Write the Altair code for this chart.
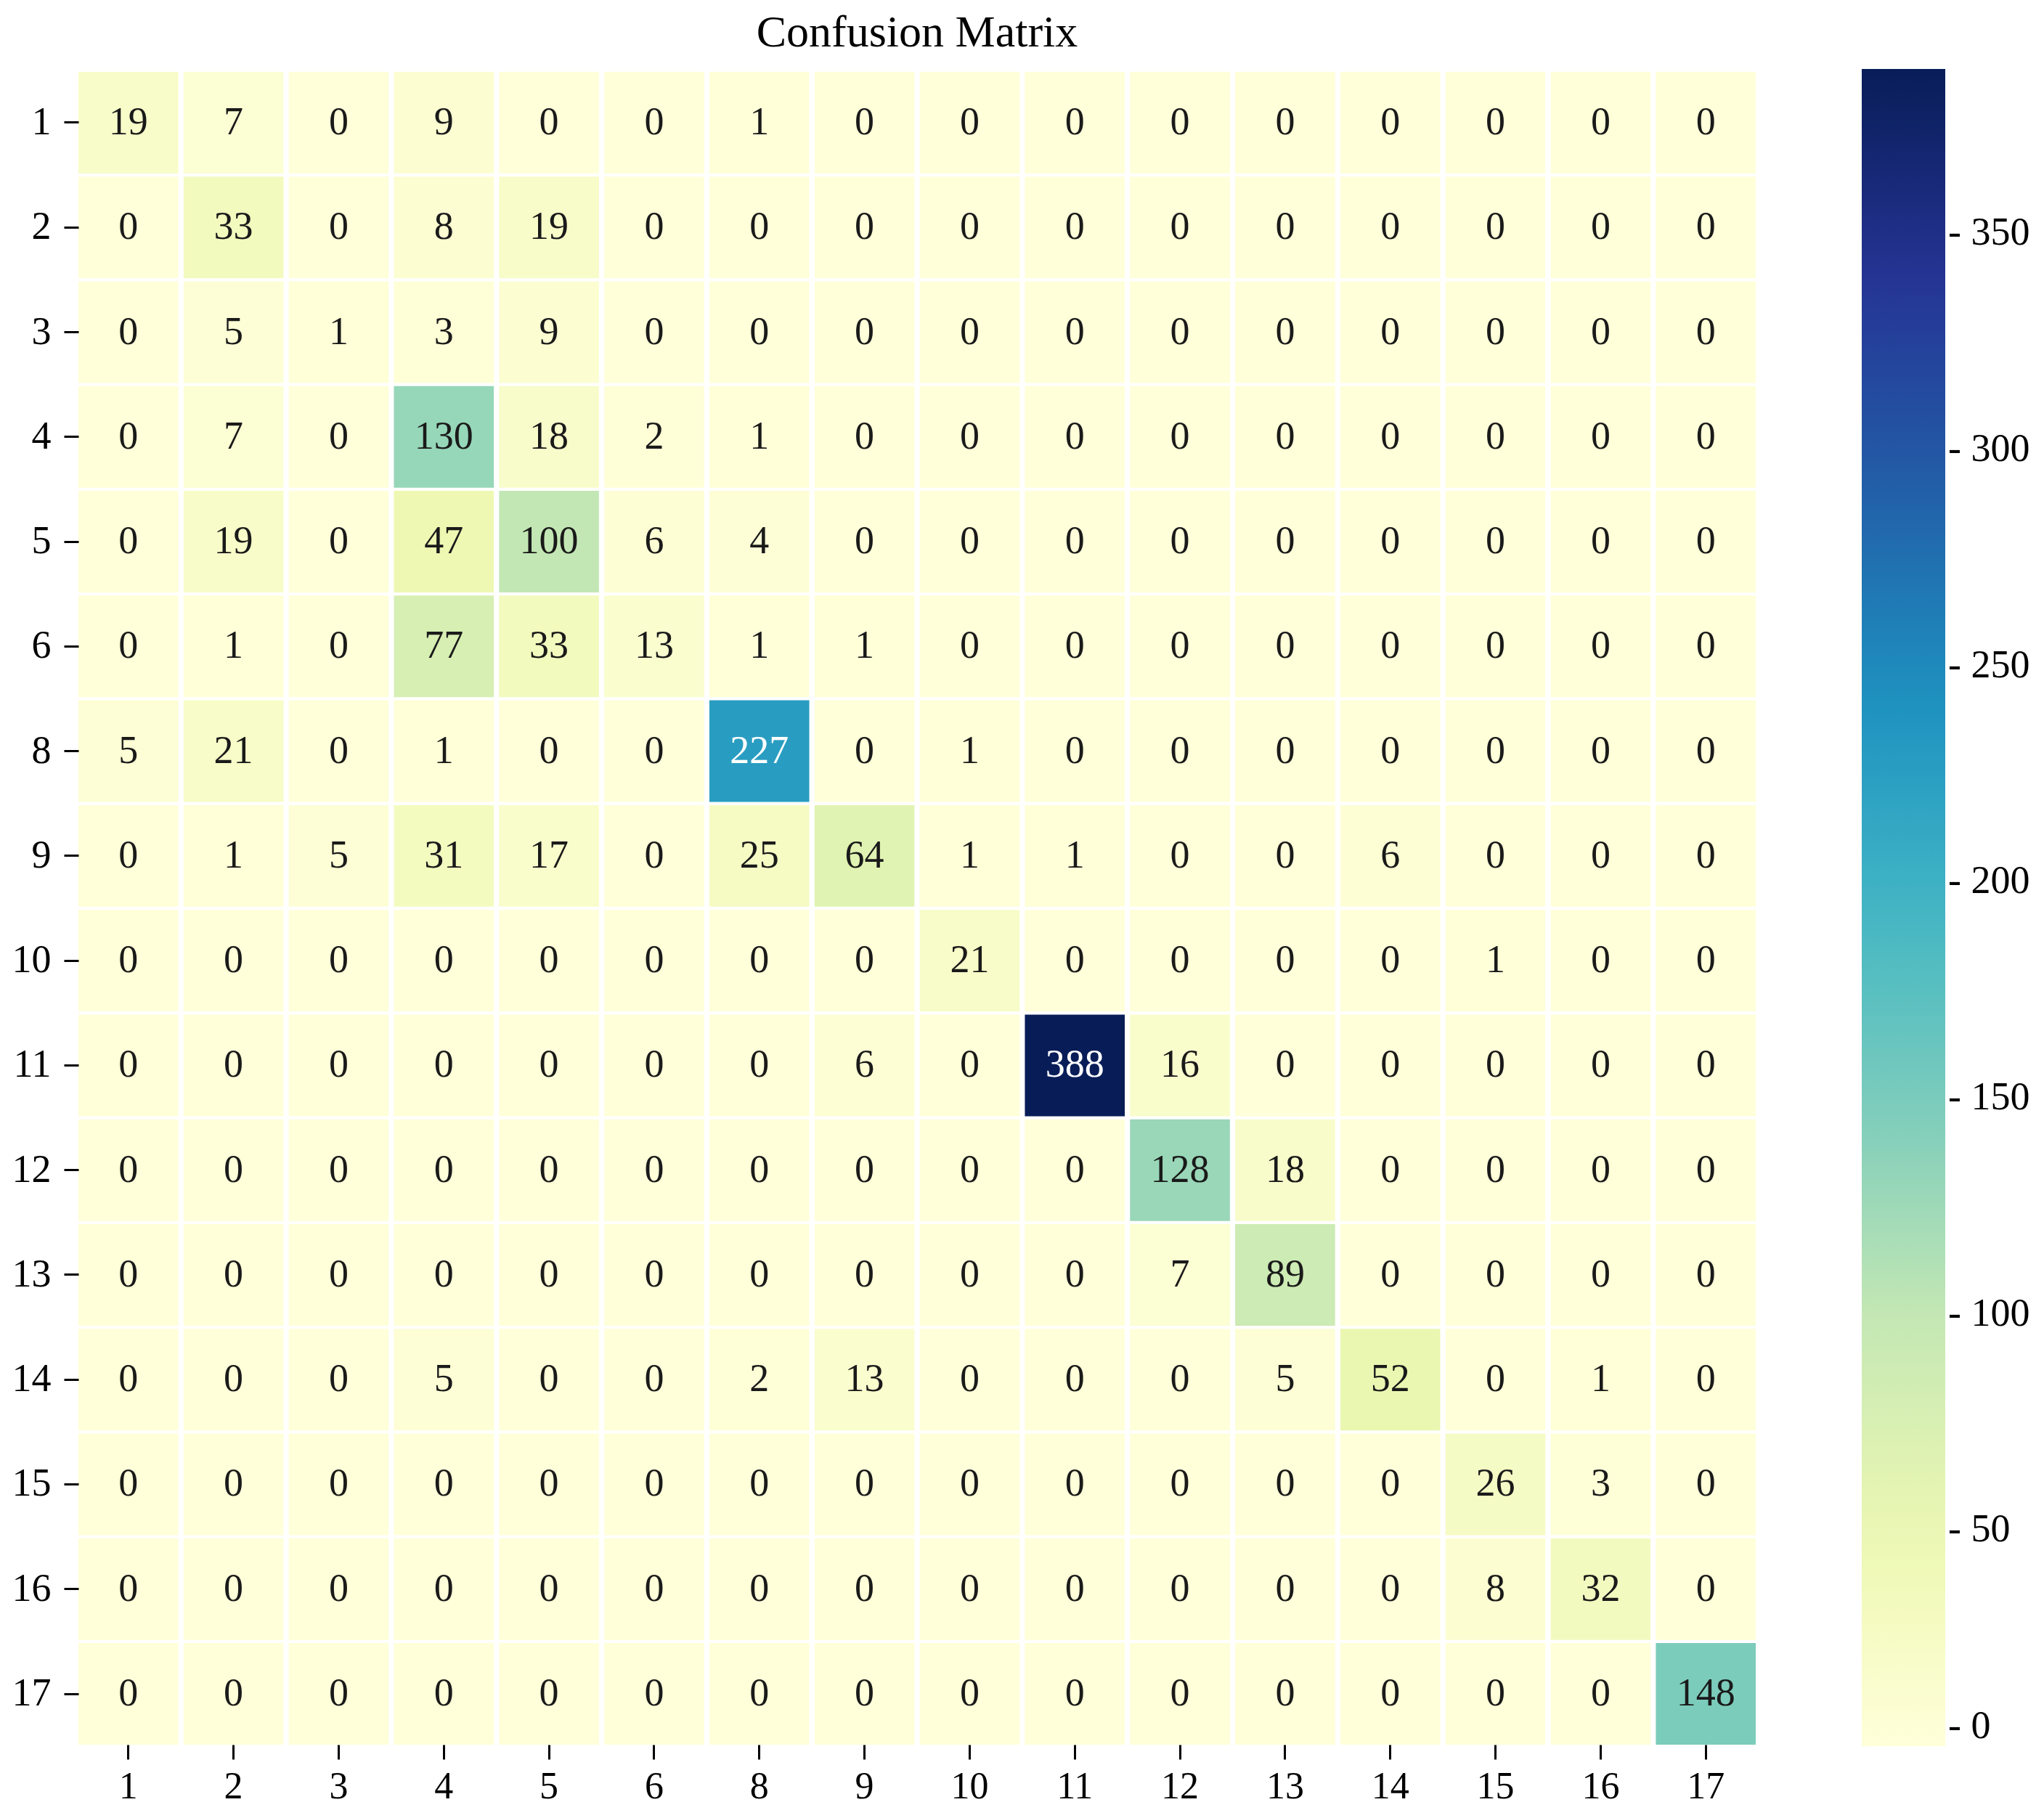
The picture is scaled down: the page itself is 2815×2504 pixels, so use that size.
import altair as alt
import pandas as pd

labels = ["1", "2", "3", "4", "5", "6", "8", "9", "10", "11", "12", "13", "14", "15", "16", "17"]

matrix = [
    [19, 7, 0, 9, 0, 0, 1, 0, 0, 0, 0, 0, 0, 0, 0, 0],
    [0, 33, 0, 8, 19, 0, 0, 0, 0, 0, 0, 0, 0, 0, 0, 0],
    [0, 5, 1, 3, 9, 0, 0, 0, 0, 0, 0, 0, 0, 0, 0, 0],
    [0, 7, 0, 130, 18, 2, 1, 0, 0, 0, 0, 0, 0, 0, 0, 0],
    [0, 19, 0, 47, 100, 6, 4, 0, 0, 0, 0, 0, 0, 0, 0, 0],
    [0, 1, 0, 77, 33, 13, 1, 1, 0, 0, 0, 0, 0, 0, 0, 0],
    [5, 21, 0, 1, 0, 0, 227, 0, 1, 0, 0, 0, 0, 0, 0, 0],
    [0, 1, 5, 31, 17, 0, 25, 64, 1, 1, 0, 0, 6, 0, 0, 0],
    [0, 0, 0, 0, 0, 0, 0, 0, 21, 0, 0, 0, 0, 1, 0, 0],
    [0, 0, 0, 0, 0, 0, 0, 6, 0, 388, 16, 0, 0, 0, 0, 0],
    [0, 0, 0, 0, 0, 0, 0, 0, 0, 0, 128, 18, 0, 0, 0, 0],
    [0, 0, 0, 0, 0, 0, 0, 0, 0, 0, 7, 89, 0, 0, 0, 0],
    [0, 0, 0, 5, 0, 0, 2, 13, 0, 0, 0, 5, 52, 0, 1, 0],
    [0, 0, 0, 0, 0, 0, 0, 0, 0, 0, 0, 0, 0, 26, 3, 0],
    [0, 0, 0, 0, 0, 0, 0, 0, 0, 0, 0, 0, 0, 8, 32, 0],
    [0, 0, 0, 0, 0, 0, 0, 0, 0, 0, 0, 0, 0, 0, 0, 148],
]

cmap_colors = ["#ffffd9", "#edf8b1", "#c7e9b4", "#7fcdbb", "#41b6c4",
               "#1d91c0", "#225ea8", "#253494", "#081d58"]
vmax = 388
colorbar_ticks = [0, 50, 100, 150, 200, 250, 300, 350]

rows = []
for i, r in enumerate(labels):
    for j, c in enumerate(labels):
        rows.append({"actual": r, "pred": c, "count": matrix[i][j]})
df = pd.DataFrame(rows)

FONT = "Liberation Serif"
n = len(cmap_colors)
domain = [vmax * k / (n - 1) for k in range(n)]

W, H = 2310, 2304

x_enc = alt.X("pred:N", sort=labels, title=None,
              scale=alt.Scale(paddingInner=0.05, paddingOuter=0),
              axis=alt.Axis(labelAngle=0, domain=False, ticks=True, tickSize=20,
                            tickWidth=3, tickColor="black", labelPadding=12,
                            labelFont=FONT, labelFontSize=52, labelColor="black"))
y_enc = alt.Y("actual:N", sort=labels, title=None,
              scale=alt.Scale(paddingInner=0.03, paddingOuter=0),
              axis=alt.Axis(domain=False, ticks=True, tickSize=20, tickWidth=3,
                            tickColor="black", labelPadding=18,
                            labelFont=FONT, labelFontSize=54, labelColor="black"))

base = alt.Chart(df).encode(x=x_enc, y=y_enc)

rects = base.mark_rect().encode(
    color=alt.Color("count:Q",
                    scale=alt.Scale(domain=domain, range=cmap_colors, interpolate="rgb"),
                    legend=alt.Legend(title=None, orient="none", legendX=2456, legendY=-4,
                                      direction="vertical", gradientLength=2310,
                                      gradientThickness=115, gradientStrokeWidth=0,
                                      values=colorbar_ticks, labelFont=FONT,
                                      labelFontSize=54, labelColor="black",
                                      labelExpr="'-  ' + datum.label",
                                      labelOffset=4))
)

texts = base.mark_text(font=FONT, fontSize=54, baseline="middle", align="center").encode(
    text="count:Q",
    color=alt.condition(alt.datum["count"] > 200, alt.value("white"), alt.value("#1a1a1a")),
)

chart = (rects + texts).properties(
    width=W, height=H,
    title=alt.TitleParams("Confusion Matrix", font=FONT, fontSize=62, fontWeight="normal",
                          color="black", anchor="middle", offset=18),
    autosize=alt.AutoSizeParams(type="none"),
    padding={"left": 100, "top": 91, "right": 389, "bottom": 93},
).configure_view(stroke=None)

chart.save("out.html", embed_options={"renderer": "svg", "actions": False})
